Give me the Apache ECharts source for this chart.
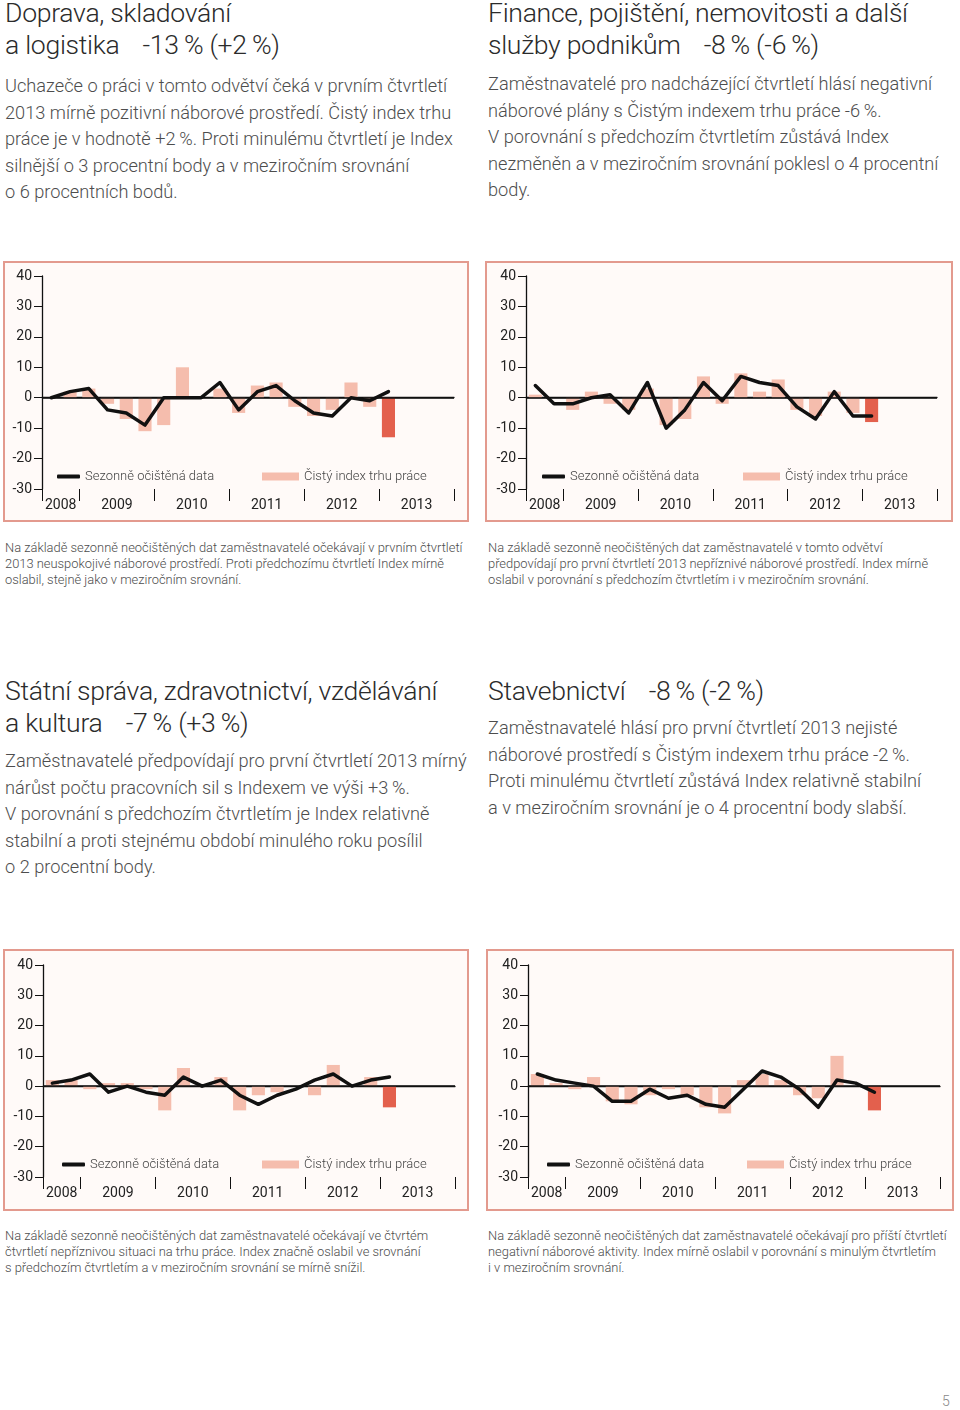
<!DOCTYPE html>
<html>
<head>
<meta charset="utf-8">
<script src="https://cdn.jsdelivr.net/npm/echarts@6/dist/echarts.min.js"></script>
<style>
  html, body { margin:0; padding:0; background:#fff; }
  body { width:960px; height:1410px; position:relative; overflow:hidden;
         font-family: Roboto, "Open Sans", Lato, "DejaVu Sans", sans-serif; font-weight:300; }
  .title { position:absolute; font-size:26.6px; line-height:32px; color:#2b2b2b; white-space:nowrap; letter-spacing:-0.3px; }
  .body { position:absolute; font-size:18.2px; line-height:26.5px; color:#4d4d4d; white-space:nowrap; }
  .cap { position:absolute; font-size:12.9px; line-height:16px; color:#4d4d4d; white-space:nowrap; }
  .gap { display:inline-block; width:17px; }
  .box { position:absolute; border:2px solid #e39a8e; box-sizing:border-box; background:#fffaf8; }
  .box > div { position:absolute; left:0; top:0; right:0; bottom:0; }
  .pg { position:absolute; left:942px; top:1393px; font-size:14px; color:#888; }
</style>
</head>
<body>
<div class="title" style="left:5px; top:-3px;">Doprava, skladování<br>a logistika<span class="gap"></span> -13&#8201;% (+2&#8201;%)</div>
<div class="body" style="left:5px; top:73px;">Uchazeče o práci v tomto odvětví čeká v prvním čtvrtletí<br>2013 mírně pozitivní náborové prostředí. Čistý index trhu<br>práce je v hodnotě +2&#8201;%. Proti minulému čtvrtletí je Index<br>silnější o 3 procentní body a v meziročním srovnání<br>o 6 procentních bodů.</div>

<div class="title" style="left:488px; top:-3px;">Finance, pojištění, nemovitosti a další<br>služby podnikům<span class="gap"></span> -8&#8201;% (-6&#8201;%)</div>
<div class="body" style="left:488px; top:71px;">Zaměstnavatelé pro nadcházející čtvrtletí hlásí negativní<br>náborové plány s Čistým indexem trhu práce -6&#8201;%.<br>V porovnání s předchozím čtvrtletím zůstává Index<br>nezměněn a v meziročním srovnání poklesl o 4 procentní<br>body.</div>

<div class="box" style="left:3px; top:261px; width:466px; height:261px;"><div id="c1"></div></div>
<div class="box" style="left:485px; top:261px; width:468px; height:261px;"><div id="c2"></div></div>

<div class="cap" style="left:5px; top:540px;">Na základě sezonně neočištěných dat zaměstnavatelé očekávají v prvním čtvrtletí<br>2013 neuspokojivé náborové prostředí. Proti předchozímu čtvrtletí Index mírně<br>oslabil, stejně jako v meziročním srovnání.</div>
<div class="cap" style="left:488px; top:540px;">Na základě sezonně neočištěných dat zaměstnavatelé v tomto odvětví<br>předpovídají pro první čtvrtletí 2013 nepříznivé náborové prostředí. Index mírně<br>oslabil v porovnání s předchozím čtvrtletím i v meziročním srovnání.</div>

<div class="title" style="left:5px; top:675px;">Státní správa, zdravotnictví, vzdělávání<br>a kultura<span class="gap"></span> -7&#8201;% (+3&#8201;%)</div>
<div class="body" style="left:5px; top:748px;">Zaměstnavatelé předpovídají pro první čtvrtletí 2013 mírný<br>nárůst počtu pracovních sil s Indexem ve výši +3&#8201;%.<br>V porovnání s předchozím čtvrtletím je Index relativně<br>stabilní a proti stejnému období minulého roku posílil<br>o 2 procentní body.</div>

<div class="title" style="left:488px; top:675px;">Stavebnictví<span class="gap"></span> -8&#8201;% (-2&#8201;%)</div>
<div class="body" style="left:488px; top:715px;">Zaměstnavatelé hlásí pro první čtvrtletí 2013 nejisté<br>náborové prostředí s Čistým indexem trhu práce -2&#8201;%.<br>Proti minulému čtvrtletí zůstává Index relativně stabilní<br>a v meziročním srovnání je o 4 procentní body slabší.</div>

<div class="box" style="left:3px; top:949px; width:466px; height:262px;"><div id="c3"></div></div>
<div class="box" style="left:486px; top:949px; width:468px; height:262px;"><div id="c4"></div></div>

<div class="cap" style="left:5px; top:1228px;">Na základě sezonně neočištěných dat zaměstnavatelé očekávají ve čtvrtém<br>čtvrtletí nepříznivou situaci na trhu práce. Index značně oslabil ve srovnání<br>s předchozím čtvrtletím a v meziročním srovnání se mírně snížil.</div>
<div class="cap" style="left:488px; top:1228px;">Na základě sezonně neočištěných dat zaměstnavatelé očekávají pro příští čtvrtletí<br>negativní náborové aktivity. Index mírně oslabil v porovnání s minulým čtvrtletím<br>i v meziročním srovnání.</div>

<div class="pg">5</div>

<script>
// ---- data ----
const quarters = ['2008 Q3','2008 Q4',
  '2009 Q1','2009 Q2','2009 Q3','2009 Q4',
  '2010 Q1','2010 Q2','2010 Q3','2010 Q4',
  '2011 Q1','2011 Q2','2011 Q3','2011 Q4',
  '2012 Q1','2012 Q2','2012 Q3','2012 Q4',
  '2013 Q1','2013 Q2','2013 Q3','2013 Q4'];
const years = ['2008','2009','2010','2011','2012','2013'];
const quartersPerYear = [2,4,4,4,4,4];
const yTicks = [-30,-20,-10,0,10,20,30,40];
const lineName = 'Sezonně očištěná data';
const barName = 'Čistý index trhu práce';

const dopravaAdjusted   = [0,2,3,-4,-5,-9,0,0,0,5,-4,2,4,-1,-5,-6,0,-1,2];
const dopravaUnadjusted = [0,2,3,-2,-7,-11,-9,10,0,3,-5,4,5,-3,-6,-4,5,-3,-13];

const financeAdjusted   = [4,-2,-2,0,1,-5,5,-10,-4,5,-1,7,5,4,-3,-7,2,-6,-6];
const financeUnadjusted = [1,0,-4,2,-2,-4,3,-9,-7,7,-2,8,2,6,-4,-6,2,-5,-8];

const statniAdjusted    = [1,2,4,-2,0,-2,-3,3,0,2,-3,-6,-3,-1,2,4,0,2,3];
const statniUnadjusted  = [2,2,-1,1,1,-1,-8,6,0,3,-8,-3,-2,0,-3,7,0,3,-7];

const stavebAdjusted    = [4,2,1,0,-5,-5,-1,-4,-3,-6,-7,-1,5,3,-1,-7,2,1,-2];
const stavebUnadjusted  = [4,1,-1,3,-5,-6,-3,-1,-3,-7,-9,2,4,2,-3,-4,10,0,-8];

// ---- derived axis helpers ----
const yearBounds = [0];
quartersPerYear.forEach(q => yearBounds.push(yearBounds[yearBounds.length-1] + q));
const yearCenters = quartersPerYear.map((q,i) => yearBounds[i] + q/2);

const FONT = 'Roboto, "Open Sans", Lato, sans-serif';

function makeOption(adj, unadj, g, lg) {
  const barData = unadj.map((v,i) => i === unadj.length-1
      ? { value: v, itemStyle: { color: '#e3604d' } } : v);
  return {
    animation: false,
    grid: { left: g.left, right: g.right, top: g.top, bottom: g.bottom },
    legend: [
      { data: [{ name: lineName, icon: 'roundRect' }], left: lg.line, top: lg.top,
        itemWidth: 23, itemHeight: 4, selectedMode: false, padding: 0,
        textStyle: { fontFamily: FONT, fontWeight: 300, fontSize: 13, color: '#444' } },
      { data: [{ name: barName, icon: 'rect' }], left: lg.bar, top: lg.top,
        itemWidth: 37, itemHeight: 8, selectedMode: false, padding: 0,
        textStyle: { fontFamily: FONT, fontWeight: 300, fontSize: 13, color: '#444' } }
    ],
    xAxis: [
      { type: 'category', data: quarters, boundaryGap: true,
        axisLine: { lineStyle: { color: '#111', width: 1.3 } },
        axisTick: { length: 5, lineStyle: { color: '#111', width: 1 } },
        axisLabel: { show: false }, splitLine: { show: false } },
      { type: 'value', min: 0, max: yearBounds[yearBounds.length-1], position: 'bottom',
        axisLine: { show: false },
        axisTick: { show: true, customValues: yearBounds, length: 12, lineStyle: { color: '#111', width: 1 } },
        axisLabel: { customValues: yearCenters, margin: 9, fontSize: 14, color: '#222', fontFamily: FONT,
          formatter: v => years[yearCenters.indexOf(v)] },
        splitLine: { show: false } }
    ],
    yAxis: {
      type: 'value', min: yTicks[0], max: yTicks[yTicks.length-1], interval: 10,
      axisLine: { show: true, lineStyle: { color: '#111', width: 1.3 } },
      axisTick: { show: true, length: 8, lineStyle: { color: '#111', width: 1 } },
      axisLabel: { margin: 10, fontSize: 14, color: '#222', fontFamily: FONT },
      splitLine: { show: false }
    },
    series: [
      { name: barName, type: 'bar', xAxisIndex: 0, data: barData, barWidth: '70%',
        itemStyle: { color: '#f5bdad' }, z: 2,
        markLine: { silent: true, symbol: 'none', label: { show: false },
          lineStyle: { color: '#111', width: 1.5, type: 'solid' }, data: [{ yAxis: 0 }] } },
      { name: lineName, type: 'line', xAxisIndex: 0, data: adj, symbol: 'none', z: 5,
        itemStyle: { color: '#111' },
        lineStyle: { color: '#111', width: 3.5, cap: 'round', join: 'round' } }
    ]
  };
}

const charts = [
  ['c1', dopravaAdjusted, dopravaUnadjusted, { left: 37, right: 13, top: 13, bottom: 31 }, { line: 52, bar: 257, top: 207 }],
  ['c2', financeAdjusted, financeUnadjusted, { left: 39, right: 14, top: 13, bottom: 31 }, { line: 55, bar: 256, top: 207 }],
  ['c3', statniAdjusted, statniUnadjusted, { left: 38, right: 12, top: 14, bottom: 32 }, { line: 57, bar: 257, top: 207 }],
  ['c4', stavebAdjusted, stavebUnadjusted, { left: 40, right: 12, top: 14, bottom: 32 }, { line: 59, bar: 259, top: 207 }]
];
charts.forEach(([id, a, u, g, lg]) => {
  const c = echarts.init(document.getElementById(id), null, { renderer: 'canvas' });
  c.setOption(makeOption(a, u, g, lg));
});
</script>
</body>
</html>
